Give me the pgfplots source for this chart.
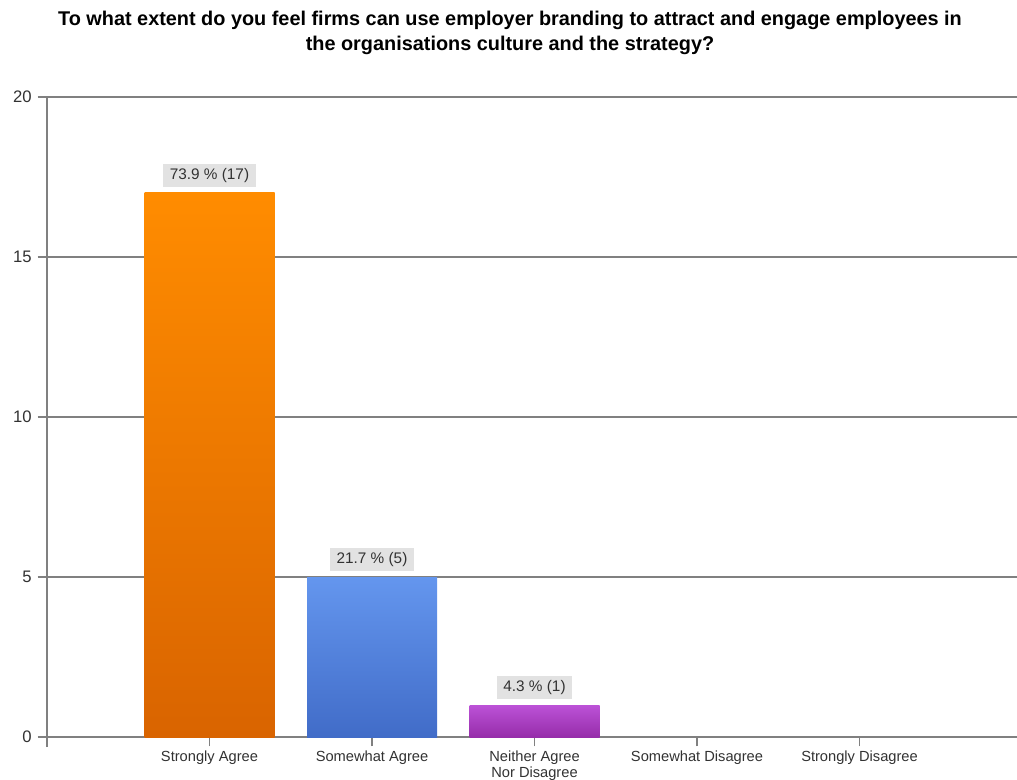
\documentclass[border=0pt]{standalone}
\usepackage{pgfplots}
\pgfplotsset{compat=1.18}
\usepackage{fontspec}
\setmainfont{Liberation Sans}
\definecolor{axgray}{RGB}{128,128,128}
\definecolor{txt}{RGB}{50,50,50}
\definecolor{lblbg}{RGB}{226,226,226}
\definecolor{orT}{RGB}{255,140,0}
\definecolor{orB}{RGB}{217,100,0}
\definecolor{blT}{RGB}{100,150,238}
\definecolor{blB}{RGB}{65,108,200}
\definecolor{puT}{RGB}{188,82,215}
\definecolor{puB}{RGB}{150,45,170}
\begin{document}
\begin{tikzpicture}
\begin{axis}[
  scale only axis,
  width=727.5pt, height=480pt,
  xmin=-1, xmax=4.969,
  ymin=0, ymax=20,
  ytick={0,5,10,15,20},
  xtick={0,1,2,3,4},
  xticklabels={Strongly Agree,Somewhat Agree,{Neither Agree\\Nor Disagree},Somewhat Disagree,Strongly Disagree},
  axis x line=bottom, axis y line=left,
  axis line style={-, line width=1.4pt, color=axgray},
  y axis line style={shorten <=-7.5pt},
  ymajorgrids,
  grid style={line width=1.4pt, color=axgray},
  tick align=outside,
  major tick length=7pt,
  tick style={line width=1.2pt, color=axgray},
  /pgf/number format/assume math mode=true,
  yticklabel style={font=\fontsize{12.5}{14}\selectfont, text=txt, xshift=-1pt},
  xticklabel style={font=\fontsize{11}{11.5}\selectfont, text=txt, align=center},
  clip=false,
]
\addplot[ybar, bar width=0.8, bar shift=0pt, draw=none, top color=orT, bottom color=orB] coordinates {(0,17)};
\addplot[ybar, bar width=0.8, bar shift=0pt, draw=none, top color=blT, bottom color=blB] coordinates {(1,5)};
\addplot[ybar, bar width=0.8, bar shift=0pt, draw=none, top color=puT, bottom color=puB] coordinates {(2,1)};
\addplot[draw=none, mark=none, nodes near coords, point meta=explicit symbolic,
  every node near coord/.style={anchor=south, yshift=4.5pt, fill=lblbg, text=txt,
    font=\fontsize{11.5}{12}\selectfont, inner xsep=5pt, inner ysep=3pt}]
  coordinates {(0,17) [73.9 \% (17)] (1,5) [21.7 \% (5)] (2,1) [4.3 \% (1)]};
\end{axis}
\node[align=center, font=\bfseries\fontsize{14.9}{18.75}\selectfont, anchor=center]
  at ([xshift=347.25pt, yshift=48.4pt]current axis.north west)
  {To what extent do you feel firms can use employer branding to attract and engage employees in\\the organisations culture and the strategy?};
\pgfresetboundingbox
\path ([xshift=-35.25pt, yshift=-31.5pt]current axis.south west) rectangle ([yshift=72.75pt]current axis.north east);
\end{tikzpicture}
\end{document}
